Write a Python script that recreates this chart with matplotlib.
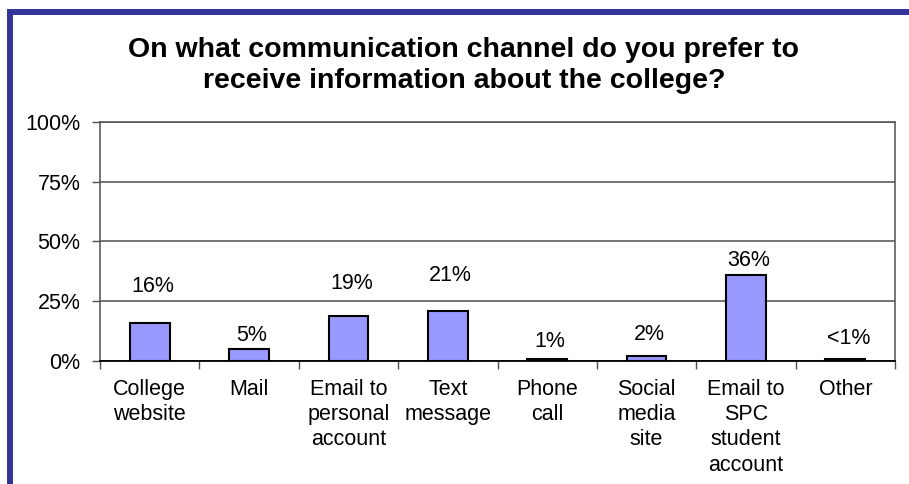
#!/usr/bin/env python3

import matplotlib
matplotlib.use('Agg')
import matplotlib.pyplot as plt
import matplotlib.patches as patches
import numpy as np

plt.rcParams['font.family'] = ['Liberation Sans', 'DejaVu Sans']

categories = ["College\nwebsite", "Mail", "Email to\npersonal\naccount",
              "Text\nmessage", "Phone\ncall", "Social\nmedia\nsite",
              "Email to\nSPC\nstudent\naccount", "Other"]
shares = [16, 5, 19, 21, 1, 2, 36, 0.8]
share_labels = ["16%", "5%", "19%", "21%", "1%", "2%", "36%", "<1%"]
# how far each value label sits above its bar (pixels)
label_lift = [36, 14, 32, 35, 17, 22, 14, 21]

W, H = 909, 484
fig = plt.figure(figsize=(W / 100, H / 100), dpi=100)

# plot area in pixel terms
left, right, top, bottom = 100, 895, 122, 361
ax = fig.add_axes([left / W, 1 - bottom / H, (right - left) / W, (bottom - top) / H])

xs = np.arange(len(categories))
ax.bar(xs, shares, width=0.4, color="#9999FF", edgecolor="black", linewidth=1.5, zorder=3)

for x, v, txt, lift in zip(xs, shares, share_labels, label_lift):
    ax.annotate(txt, (x, v), xytext=(3, lift), textcoords="offset pixels",
                ha="center", va="center", fontsize=15.5, color="black")

ax.set_xlim(-0.5, len(categories) - 0.5)
ax.set_ylim(0, 100)
ax.set_yticks([0, 25, 50, 75, 100])
ax.set_yticklabels(["0%", "25%", "50%", "75%", "100%"], fontsize=15.5)
ax.grid(axis="y", color="#505050", linewidth=1.1, zorder=0)

# category names at bar centres, tick marks at category boundaries
ax.set_xticks(xs)
ax.set_xticklabels(categories, fontsize=15.5, linespacing=1.26, va="top")
ax.tick_params(axis="x", length=0, pad=13)
ax.set_xticks(np.arange(-0.5, len(categories)), minor=True)
ax.tick_params(axis="x", which="minor", length=6, width=1, color="#505050")
ax.tick_params(axis="y", length=6, width=1, color="#505050", pad=8)

for side in ["left", "top", "right"]:
    ax.spines[side].set_color("#505050")
    ax.spines[side].set_linewidth(1.1)
ax.spines["bottom"].set_color("black")
ax.spines["bottom"].set_linewidth(1.3)
ax.spines["bottom"].set_zorder(4)

# baseline of the second title line
fig.text(464 / W, 1 - 88 / H,
         "On what communication channel do you prefer to\nreceive information about the college?",
         ha="center", va="baseline", fontsize=20.5, fontweight="bold", linespacing=1.27)

# dark blue frame around the chart, running off the right and bottom edges
frame = patches.Rectangle((10 / W, -0.1), 1.2, 1.1 - 12 / H, transform=fig.transFigure,
                          fill=False, edgecolor="#333399", linewidth=4.3, clip_on=False)
fig.patches.append(frame)

plt.savefig("out.png", dpi=100)
